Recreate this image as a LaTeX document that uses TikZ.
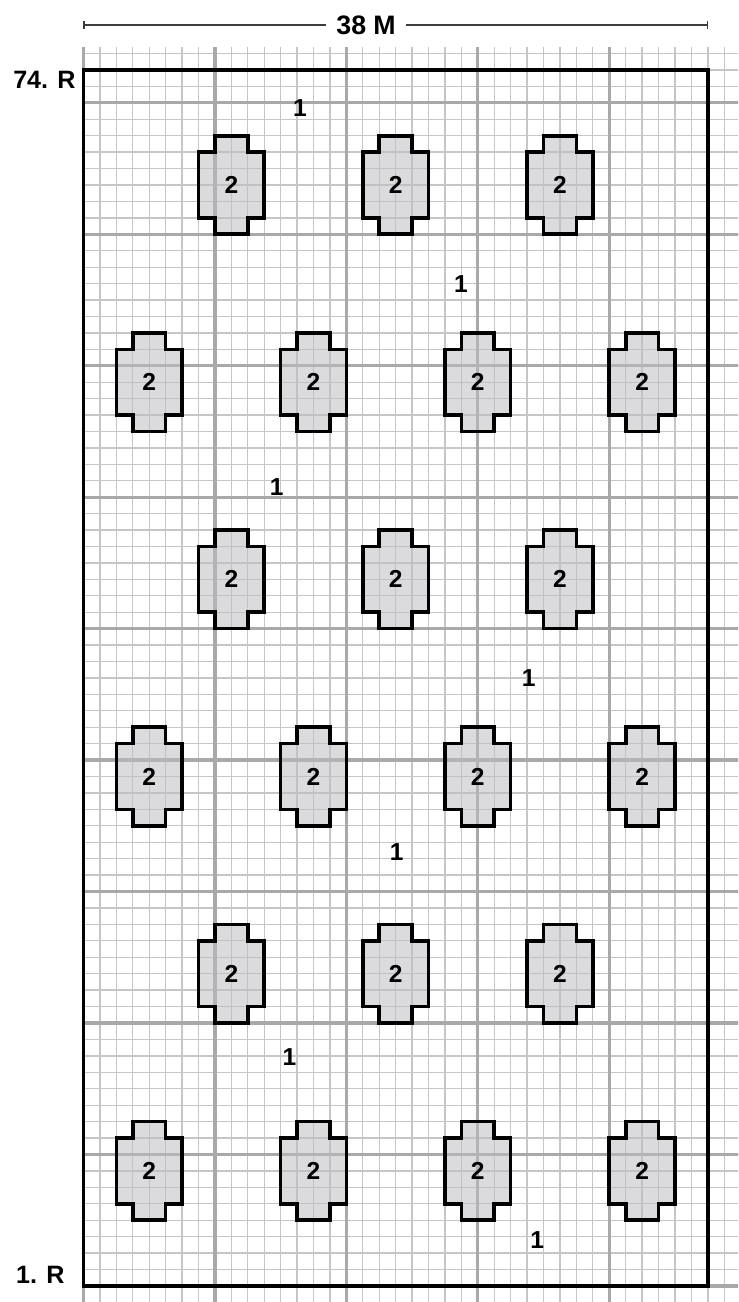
\documentclass[tikz,border=0pt]{standalone}
\usepackage{fontspec}
\setmainfont{Liberation Sans}
\usetikzlibrary{arrows.meta}
\definecolor{minorgray}{HTML}{C6C6C6}
\definecolor{majorgray}{HTML}{A9A9A9}
\definecolor{dimgray}{HTML}{3C3C3C}
\definecolor{pillargray}{HTML}{BDBDC2}
\tikzset{
  minorgrid/.style={minorgray,line width=0.9pt},
  majorgrid/.style={majorgray,line width=2.3pt},
  border/.style={black,line width=2.7pt,line join=miter},
  pillarline/.style={black,line width=2.5pt,line join=miter,
    fill=pillargray,fill opacity=0.55},
  countlabel/.style={font=\fontsize{17}{19}\selectfont\bfseries,inner sep=0pt},
  rowlabel/.style={font=\fontsize{17.4}{20}\selectfont\bfseries,inner sep=0pt},
  dimline/.style={dimgray,line width=0.9pt},
  dimlabel/.style={font=\fontsize{18.5}{20}\selectfont\bfseries,inner sep=0pt,
    inner xsep=0.25cm},
  pillar/.pic={
    \draw[pillarline] (-1,3) -- (1,3) -- (1,2) -- (2,2) -- (2,-2) -- (1,-2)
      -- (1,-3) -- (-1,-3) -- (-1,-2) -- (-2,-2) -- (-2,2) -- (-1,2) -- cycle;
    \node[countlabel] (-lbl) at (0,0) {2};
  }
}

\begin{document}
\begin{tikzpicture}[x=0.4cm,y=0.4cm]
  \useasboundingbox (-5.08,-0.98) rectangle (39.84,78.26);

  % Squared paper, one cell per metre.
  \begin{scope}
    \clip (-5.08,-0.98) rectangle (39.84,78.26);
    \draw[minorgrid,step=0.4cm] (0,-1) grid (40,75.4);
    \draw[majorgrid,step=3.2cm] (0,-1) grid (40,75.4);
  \end{scope}

  % Width dimension.
  \coordinate (dimL) at (0,76.74);
  \coordinate (dimR) at (38,76.74);
  \node[dimlabel] (dimlbl) at (17.2,76.74) {38 M};
  \draw[dimline,-{Bar[width=2mm]}] (dimlbl) -- (dimL);
  \draw[dimline,-{Bar[width=2mm]}] (dimlbl) -- (dimR);

  % Row numbers.
  \node[rowlabel,anchor=base west] (rtop) at (-4.29,72.9) {74. R};
  \node[rowlabel,anchor=base west] (rbot) at (-4.11,0.15) {1. R};

  % Plot outline.
  \draw[border] (0,0) rectangle (38,74);

  % Row 1.
  \pic (p11) at (9,67) {pillar};
  \pic (p12) at (19,67) {pillar};
  \pic (p13) at (29,67) {pillar};
  % Row 2.
  \pic (p21) at (4,55) {pillar};
  \pic (p22) at (14,55) {pillar};
  \pic (p23) at (24,55) {pillar};
  \pic (p24) at (34,55) {pillar};
  % Row 3.
  \pic (p31) at (9,43) {pillar};
  \pic (p32) at (19,43) {pillar};
  \pic (p33) at (29,43) {pillar};
  % Row 4.
  \pic (p41) at (4,31) {pillar};
  \pic (p42) at (14,31) {pillar};
  \pic (p43) at (24,31) {pillar};
  \pic (p44) at (34,31) {pillar};
  % Row 5.
  \pic (p51) at (9,19) {pillar};
  \pic (p52) at (19,19) {pillar};
  \pic (p53) at (29,19) {pillar};
  % Row 6.
  \pic (p61) at (4,7) {pillar};
  \pic (p62) at (14,7) {pillar};
  \pic (p63) at (24,7) {pillar};
  \pic (p64) at (34,7) {pillar};

  % Open ground.
  \node[countlabel] (g1) at (13.18,71.7) {1};
  \node[countlabel] (g2) at (22.98,61.0) {1};
  \node[countlabel] (g3) at (11.76,48.64) {1};
  \node[countlabel] (g4) at (27.1,36.97) {1};
  \node[countlabel] (g5) at (19.06,26.43) {1};
  \node[countlabel] (g6) at (12.53,13.9) {1};
  \node[countlabel] (g7) at (27.62,2.79) {1};
\end{tikzpicture}
\end{document}
